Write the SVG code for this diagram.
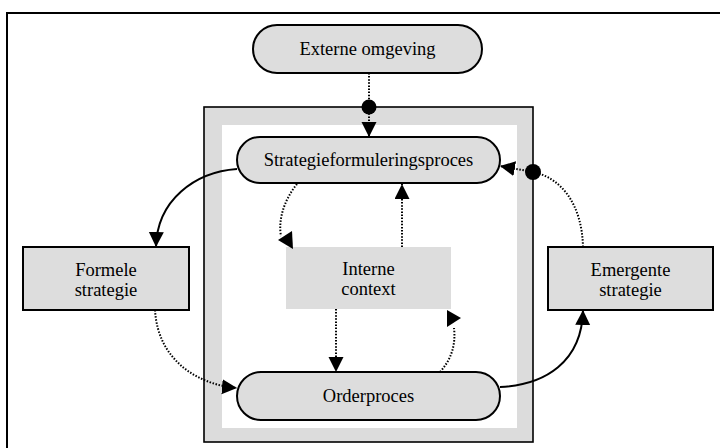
<svg xmlns="http://www.w3.org/2000/svg" width="720" height="448" viewBox="0 0 720 448">
  <style>
    .lbl { font-family: "Liberation Serif", "Times New Roman", serif; font-size: 18.5px; fill: #000; text-anchor: middle; }
    .pill { fill: #dddddd; stroke: #000; stroke-width: 2; }
    .box { fill: #dddddd; stroke: #000; stroke-width: 2; }
    .solid { fill: none; stroke: #000; stroke-width: 2; }
    .dotted { fill: none; stroke: #000; stroke-width: 2; stroke-dasharray: 1.5 1.6; }
  </style>
  <defs>
    <marker id="head" markerUnits="userSpaceOnUse" markerWidth="16" markerHeight="16" refX="15" refY="7.5" orient="auto">
      <path d="M0,0 L15,7.5 L0,15 z" fill="#000"/>
    </marker>
  </defs>

  <rect x="0" y="0" width="720" height="448" fill="#fff"/>
  <!-- page frame -->
  <rect x="7" y="13" width="780" height="500" fill="none" stroke="#000" stroke-width="2"/>

  <!-- organisation boundary -->
  <g id="organisatie">
    <rect x="204" y="107" width="329" height="335" fill="#dcdcdc" stroke="#000" stroke-width="1.6"/>
    <rect x="222" y="125" width="295" height="303" fill="#fff"/>
  </g>

  <g id="externe-omgeving">
    <rect class="pill" x="253" y="25" width="229" height="48" rx="24"/>
    <text class="lbl" x="367.5" y="55">Externe omgeving</text>
  </g>

  <g id="strategieformuleringsproces">
    <rect class="pill" x="237" y="137" width="263" height="46" rx="23"/>
    <text class="lbl" x="368.5" y="166">Strategieformuleringsproces</text>
  </g>

  <g id="interne-context">
    <rect x="286" y="247" width="165" height="62" fill="#dddddd"/>
    <text class="lbl" x="368.5" y="275">Interne</text>
    <text class="lbl" x="368.5" y="295">context</text>
  </g>

  <g id="orderproces">
    <rect class="pill" x="237" y="372" width="263" height="48" rx="24"/>
    <text class="lbl" x="368.5" y="402">Orderproces</text>
  </g>

  <g id="formele-strategie">
    <rect class="box" x="23" y="247" width="166" height="63"/>
    <text class="lbl" x="106" y="276">Formele</text>
    <text class="lbl" x="106" y="296">strategie</text>
  </g>

  <g id="emergente-strategie">
    <rect class="box" x="548" y="247" width="165" height="63"/>
    <text class="lbl" x="630.5" y="276">Emergente</text>
    <text class="lbl" x="630.5" y="296">strategie</text>
  </g>

  <g id="connectors">
    <!-- external environment into the formulation process -->
    <path class="dotted" d="M369,73 L369,137" marker-end="url(#head)"/>
    <circle cx="369" cy="107" r="7.5" fill="#000"/>

    <!-- formulation -> formal strategy -->
    <path class="solid" d="M237,169 C195,172 157,200 156,247" marker-end="url(#head)"/>

    <!-- formal strategy -> order process -->
    <path class="dotted" d="M155,310 C158,362 200,385 237,388" marker-end="url(#head)"/>

    <!-- order process -> emergent strategy -->
    <path class="solid" d="M500,387 C545,385 582,362 583,310" marker-end="url(#head)"/>

    <!-- emergent strategy back to formulation -->
    <path class="dotted" d="M583,247 C582,205 562,178 533,172"/>
    <path class="dotted" d="M533,172 L500,166" marker-end="url(#head)"/>
    <circle cx="533" cy="172" r="8" fill="#000"/>

    <!-- formulation -> internal context -->
    <path class="dotted" d="M297,184 C284,200 278,220 281,236"/>
    <polygon points="278,240 292,231 293,249" fill="#000"/>

    <!-- internal context -> formulation -->
    <path class="dotted" d="M402,247 L402,184" marker-end="url(#head)"/>

    <!-- internal context -> order process -->
    <path class="dotted" d="M336,309 L336,372" marker-end="url(#head)"/>

    <!-- order process -> internal context -->
    <path class="dotted" d="M440,372 C451,360 456,345 454,328"/>
    <polygon points="461,318 447,310 447,327" fill="#000"/>
  </g>
</svg>
